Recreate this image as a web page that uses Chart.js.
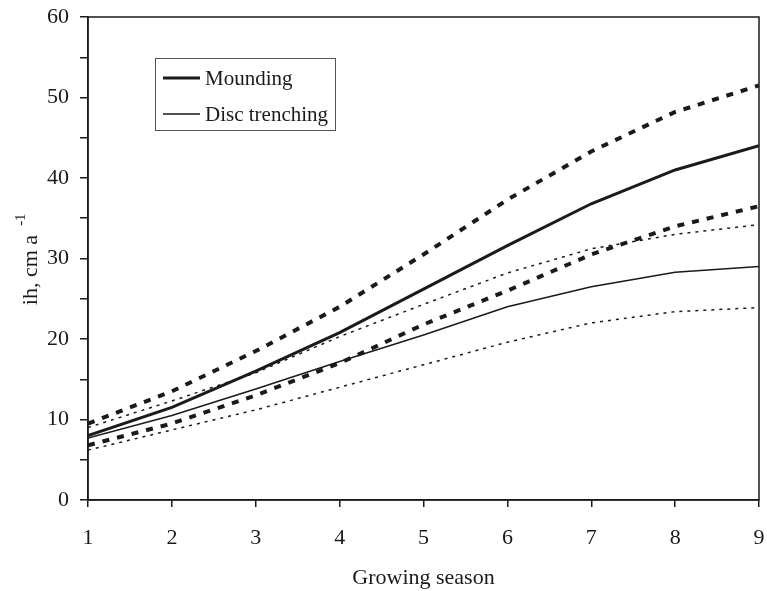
<!DOCTYPE html>
<html>
<head>
<meta charset="utf-8">
<script src="https://cdn.jsdelivr.net/npm/chart.js@4/dist/chart.umd.min.js"></script>
<style>
  html, body { margin: 0; padding: 0; background: #fff; }
  #wrap { width: 767px; height: 591px; }
</style>
</head>
<body>
<div id="wrap"><canvas id="grafico" width="767" height="591"></canvas></div>
<script>
// growing seasons
const seasons = [1, 2, 3, 4, 5, 6, 7, 8, 9];

// mounding: mean and bounds
const moundMean  = [8.0, 11.5, 16.0, 20.8, 26.2, 31.6, 36.8, 41.0, 44.0];
const moundUpper = [9.5, 13.5, 18.5, 24.0, 30.5, 37.3, 43.3, 48.2, 51.5];
const moundLower = [6.8, 9.5, 13.0, 17.0, 21.8, 26.0, 30.5, 34.0, 36.5];

// disc trenching: mean and bounds
const discMean  = [7.7, 10.5, 13.8, 17.2, 20.5, 24.0, 26.5, 28.3, 29.0];
const discUpper = [9.0, 12.3, 15.8, 20.3, 24.3, 28.2, 31.2, 33.0, 34.2];
const discLower = [6.2, 8.7, 11.2, 14.0, 16.8, 19.6, 22.0, 23.4, 23.9];

const yTicks = [0, 10, 20, 30, 40, 50, 60];

const tinta = '#1a1a1a';
const fonte = "'Liberation Serif', 'Times New Roman', serif";

function pontos(vals) {
    return seasons.map((s, i) => ({ x: s, y: vals[i] }));
}

// box around plot + legend box + y title with superscript
const extras = {
    id: 'extras',
    afterDraw(chart) {
        const c = chart.ctx;
        const a = chart.chartArea;
        c.save();
        c.strokeStyle = tinta;
        c.lineWidth = 1.5;
        c.strokeRect(a.left, a.top, a.right - a.left, a.bottom - a.top);

        // legend
        c.fillStyle = '#fff';
        c.fillRect(155, 58, 180, 72);
        c.lineWidth = 1;
        c.strokeStyle = '#555';
        c.strokeRect(155.5, 58.5, 180, 72);
        c.strokeStyle = tinta;
        c.fillStyle = tinta;
        c.font = '21px ' + fonte;
        c.textBaseline = 'middle';
        const itens = [chart.data.datasets[0], chart.data.datasets[3]];
        itens.forEach((ds, i) => {
            const y = 78 + i * 36;
            c.lineWidth = ds.borderWidth;
            c.beginPath();
            c.moveTo(163, y);
            c.lineTo(200, y);
            c.stroke();
            c.fillText(ds.label, 205, y + 1);
        });

        // y title
        c.translate(37, 270);
        c.rotate(-Math.PI / 2);
        c.font = '22px ' + fonte;
        c.textBaseline = 'alphabetic';
        const base = 'ih, cm a';
        const w = c.measureText(base).width;
        c.textAlign = 'left';
        c.fillText(base, -w / 2, 0);
        c.font = '15px ' + fonte;
        c.fillText('-1', w / 2 + 9, -12);
        c.restore();
    }
};

const ctx = document.getElementById('grafico');

new Chart(ctx, {
    type: 'line',
    data: {
        datasets: [
            { label: 'Mounding', data: pontos(moundMean), borderColor: tinta, borderWidth: 3 },
            { label: 'Mounding upper', data: pontos(moundUpper), borderColor: tinta, borderWidth: 4, borderDash: [7, 8] },
            { label: 'Mounding lower', data: pontos(moundLower), borderColor: tinta, borderWidth: 4, borderDash: [7, 8] },
            { label: 'Disc trenching', data: pontos(discMean), borderColor: tinta, borderWidth: 1.5 },
            { label: 'Disc upper', data: pontos(discUpper), borderColor: tinta, borderWidth: 1.5, borderDash: [3, 5] },
            { label: 'Disc lower', data: pontos(discLower), borderColor: tinta, borderWidth: 1.5, borderDash: [3, 5] }
        ]
    },
    options: {
        responsive: false,
        animation: false,
        events: [],
        elements: { point: { radius: 0 }, line: { tension: 0 } },
        layout: { padding: { top: 17, right: 8, left: 0, bottom: 0 } },
        plugins: { legend: { display: false }, tooltip: { enabled: false } },
        scales: {
            x: {
                type: 'linear',
                min: 1,
                max: 9,
                ticks: { stepSize: 1, color: tinta, font: { family: fonte, size: 22 }, padding: 18, maxRotation: 0 },
                grid: { drawOnChartArea: false, drawTicks: true, tickLength: 7, color: tinta, lineWidth: 1.5 },
                border: { display: true, color: tinta, width: 1.5 },
                title: { display: true, text: 'Growing season', color: tinta, font: { family: fonte, size: 22 }, padding: { top: 0, bottom: 0 } },
                afterFit(scale) {
                    scale.height = 91;
                    scale.paddingLeft = 0;
                    scale.paddingRight = 0;
                }
            },
            y: {
                min: 0,
                max: 60,
                ticks: {
                    stepSize: 5,
                    color: tinta,
                    font: { family: fonte, size: 22 },
                    padding: 11,
                    callback: v => yTicks.includes(v) ? v : ''
                },
                grid: { drawOnChartArea: false, drawTicks: true, tickLength: 8, color: tinta, lineWidth: 1.5 },
                border: { display: true, color: tinta, width: 1.5 },
                afterFit(scale) {
                    scale.width = 88;
                    scale.paddingTop = 0;
                    scale.paddingBottom = 0;
                }
            }
        }
    },
    plugins: [extras]
});
</script>
</body>
</html>
